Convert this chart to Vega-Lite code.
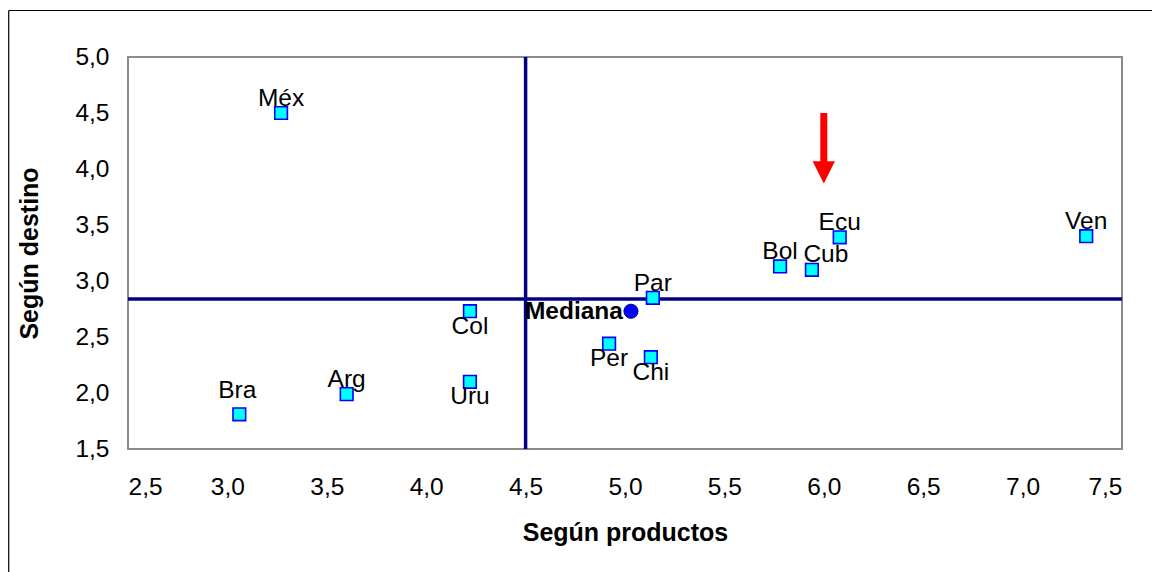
{
  "$schema": "https://vega.github.io/schema/vega-lite/v6.json",
  "width": 994,
  "height": 392,
  "autosize": "none",
  "padding": {"left": 128, "top": 57, "right": 30, "bottom": 123},
  "background": "white",
  "config": {
    "font": "Liberation Sans",
    "view": {"stroke": "#8c8c8c", "strokeWidth": 2},
    "axis": {
      "domain": false, "ticks": false, "tickSize": 0, "grid": false,
      "labelFont": "Liberation Sans", "labelFontSize": 24.5, "labelColor": "#000000",
      "titleFont": "Liberation Sans", "titleFontSize": 25, "titleFontWeight": "bold", "titleColor": "#000000"
    }
  },
  "datasets": {
    "paises": [
      {"pais": "Méx", "x": 3.27, "y": 4.50},
      {"pais": "Bra", "x": 3.06, "y": 1.81},
      {"pais": "Arg", "x": 3.60, "y": 1.99},
      {"pais": "Uru", "x": 4.22, "y": 2.10},
      {"pais": "Col", "x": 4.22, "y": 2.73},
      {"pais": "Per", "x": 4.92, "y": 2.44},
      {"pais": "Chi", "x": 5.13, "y": 2.32},
      {"pais": "Par", "x": 5.14, "y": 2.85},
      {"pais": "Bol", "x": 5.78, "y": 3.13},
      {"pais": "Cub", "x": 5.94, "y": 3.10},
      {"pais": "Ecu", "x": 6.08, "y": 3.39},
      {"pais": "Ven", "x": 7.32, "y": 3.40}
    ],
    "mediana": [{"pais": "Mediana", "x": 5.03, "y": 2.73}],
    "cuadrantes": [
      {"x": 4.5, "x2": 4.5, "y": 1.5, "y2": 5.0},
      {"x": 2.5, "x2": 7.5, "y": 2.84, "y2": 2.84}
    ],
    "flecha": [{"x": 6.0, "y": 4.5, "y2": 4.05, "punta": 3.97}],
    "marco": [
      {"x": 1.9, "x2": 1.9, "y": 0.3, "y2": 5.415},
      {"x": 1.9, "x2": 7.9, "y": 5.415, "y2": 5.415}
    ]
  },
  "encoding": {
    "x": {
      "field": "x", "type": "quantitative",
      "scale": {"domain": [2.5, 7.5], "zero": false, "nice": false},
      "axis": {
        "title": "Según productos",
        "values": [2.5, 3, 3.5, 4, 4.5, 5, 5.5, 6, 6.5, 7, 7.5],
        "labelExpr": "replace(format(datum.value, '.1f'), '.', ',')",
        "labelPadding": 26, "titlePadding": 22
      }
    },
    "y": {
      "field": "y", "type": "quantitative",
      "scale": {"domain": [1.5, 5.0], "zero": false, "nice": false},
      "axis": {
        "title": "Según destino",
        "values": [1.5, 2, 2.5, 3, 3.5, 4, 4.5, 5],
        "labelExpr": "replace(format(datum.value, '.1f'), '.', ',')",
        "labelPadding": 19, "titlePadding": 32
      }
    }
  },
  "layer": [
    {
      "data": {"name": "marco"},
      "mark": {"type": "rule", "color": "#000000", "strokeWidth": 1.2, "clip": false},
      "encoding": {"x2": {"field": "x2"}, "y2": {"field": "y2"}}
    },
    {
      "data": {"name": "cuadrantes"},
      "mark": {"type": "rule", "color": "#000080", "strokeWidth": 3.5},
      "encoding": {"x2": {"field": "x2"}, "y2": {"field": "y2"}}
    },
    {
      "data": {"name": "flecha"},
      "mark": {"type": "rule", "color": "#ff0000", "strokeWidth": 7},
      "encoding": {"y2": {"field": "y2"}}
    },
    {
      "data": {"name": "flecha"},
      "mark": {"type": "point", "shape": "M-1,-1L1,-1L0,1Z", "filled": true, "color": "#ff0000", "size": 500, "opacity": 1},
      "encoding": {"y": {"field": "punta", "type": "quantitative"}}
    },
    {
      "data": {"name": "paises"},
      "mark": {"type": "point", "shape": "square", "filled": true, "fill": "#00ffff", "stroke": "#0000ff", "strokeWidth": 1.6, "size": 160, "opacity": 1}
    },
    {
      "data": {"name": "mediana"},
      "mark": {"type": "point", "shape": "circle", "filled": true, "fill": "#0000ff", "stroke": "#000080", "strokeWidth": 1, "size": 200, "opacity": 1}
    },
    {
      "data": {"name": "paises"},
      "transform": [{"filter": {"field": "pais", "oneOf": ["Méx", "Arg", "Ecu", "Ven", "Par", "Bol"]}}],
      "mark": {"type": "text", "fontSize": 24.5, "color": "#000000", "baseline": "alphabetic", "dy": -7},
      "encoding": {"text": {"field": "pais"}}
    },
    {
      "data": {"name": "paises"},
      "transform": [{"filter": {"field": "pais", "equal": "Bra"}}],
      "mark": {"type": "text", "fontSize": 24.5, "color": "#000000", "baseline": "alphabetic", "dy": -16, "dx": -2},
      "encoding": {"text": {"field": "pais"}}
    },
    {
      "data": {"name": "paises"},
      "transform": [{"filter": {"field": "pais", "equal": "Cub"}}],
      "mark": {"type": "text", "fontSize": 24.5, "color": "#000000", "baseline": "alphabetic", "dy": -8, "dx": 14},
      "encoding": {"text": {"field": "pais"}}
    },
    {
      "data": {"name": "paises"},
      "transform": [{"filter": {"field": "pais", "oneOf": ["Col", "Per", "Uru", "Chi"]}}],
      "mark": {"type": "text", "fontSize": 24.5, "color": "#000000", "baseline": "alphabetic", "dy": 22.5},
      "encoding": {"text": {"field": "pais"}}
    },
    {
      "data": {"name": "mediana"},
      "mark": {"type": "text", "fontSize": 24.5, "fontWeight": "bold", "color": "#000000", "align": "right", "baseline": "middle", "dx": -8, "dy": 1},
      "encoding": {"text": {"field": "pais"}}
    }
  ]
}
